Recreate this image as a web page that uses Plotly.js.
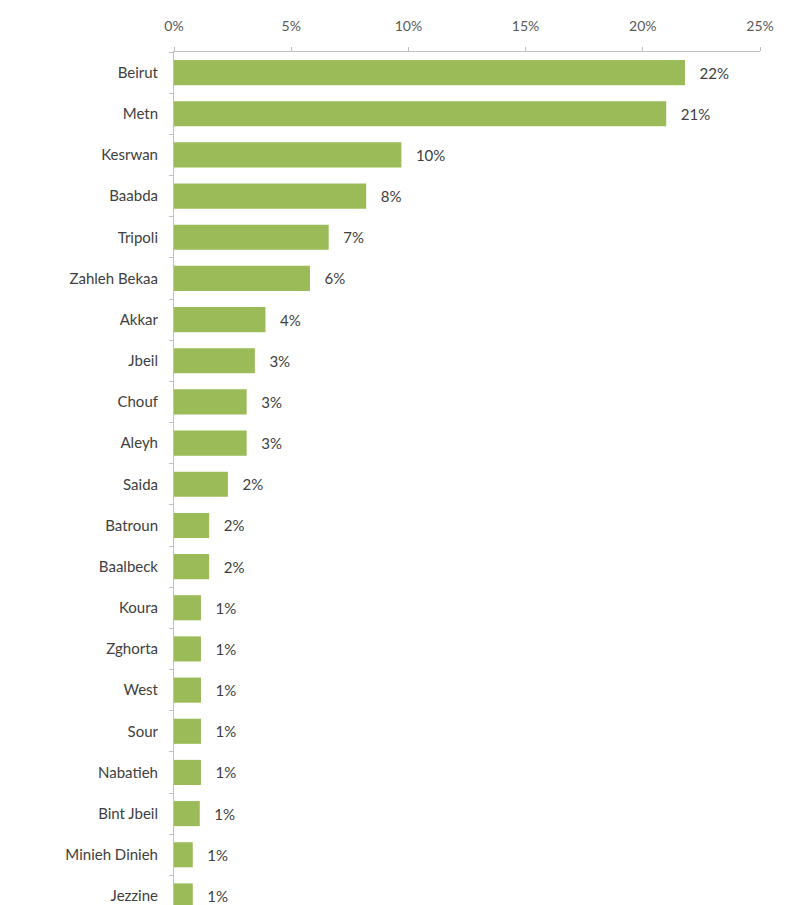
<!DOCTYPE html>
<html>
<head>
<meta charset="utf-8">
<script src="https://cdn.plot.ly/plotly-3.0.1.min.js"></script>
<style>html,body{margin:0;padding:0;background:#fff;}</style>
</head>
<body>
<div id="chart" style="width:807px;height:905px;"></div>
<script>
const districts = ["Beirut","Metn","Kesrwan","Baabda","Tripoli","Zahleh Bekaa","Akkar","Jbeil","Chouf","Aleyh","Saida","Batroun","Baalbeck","Koura","Zghorta","West","Sour","Nabatieh","Bint Jbeil","Minieh Dinieh","Jezzine"];
const shares = [21.8,21.0,9.7,8.2,6.6,5.8,3.9,3.45,3.1,3.1,2.3,1.5,1.5,1.15,1.15,1.15,1.15,1.15,1.1,0.8,0.8];
const xTicks = [0,5,10,15,20,25];
const xTickLabels = ["0%","5%","10%","15%","20%","25%"];

const font = "Lato,'Liberation Sans',sans-serif";

Plotly.newPlot('chart', [{
  type: 'bar',
  orientation: 'h',
  y: districts,
  x: shares,
  marker: {color: '#9BBB59', line: {color: '#9BBB59', width: 0}},
  texttemplate: '   %{x:.0f}%',
  textposition: 'outside',
  cliponaxis: false,
  textfont: {family: font, size: 15, color: '#404040'},
  hoverinfo: 'skip'
}], {
  width: 807, height: 905,
  margin: {l: 174, r: 47, t: 52, b: 0},
  paper_bgcolor: '#fff', plot_bgcolor: '#fff',
  bargap: 0.39,
  showlegend: false,
  xaxis: {
    side: 'top', range: [0, 25], tickvals: xTicks, ticktext: xTickLabels,
    showgrid: false, zeroline: false, showline: true, linecolor: '#BFBFBF', linewidth: 1,
    ticks: 'outside', ticklen: 4, tickcolor: '#BFBFBF',
    tickfont: {family: font, size: 14, color: '#595959'}, ticklabelstandoff: 10
  },
  yaxis: {
    type: 'category', range: [20.22, -0.5], automargin: false,
    showgrid: false, zeroline: false, showline: true, linecolor: '#BFBFBF', linewidth: 1,
    ticks: 'outside', ticklen: 4, tickcolor: '#BFBFBF', tickson: 'boundaries',
    tickfont: {family: font, size: 15, color: '#404040'}, ticklabelstandoff: 12
  }
}, {displayModeBar: false, staticPlot: true});
</script>
</body>
</html>
